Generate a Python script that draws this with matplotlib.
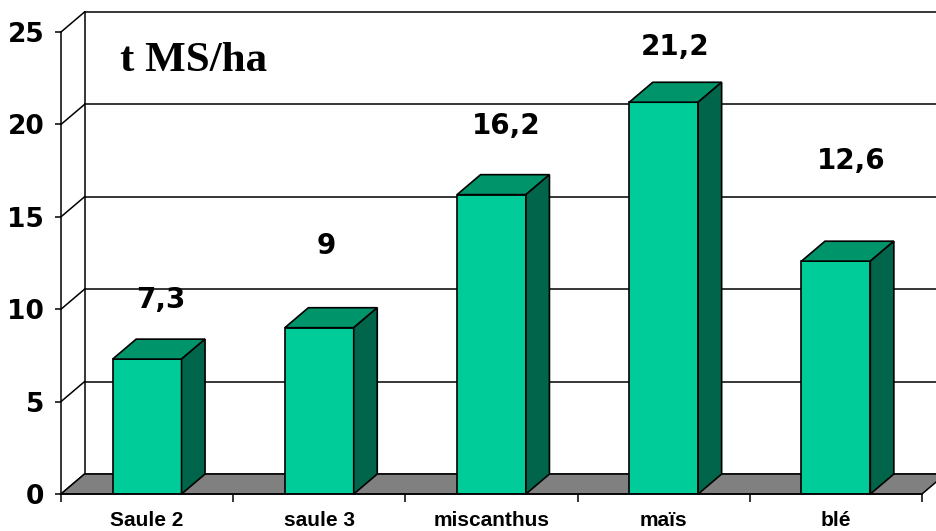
import numpy as np
import matplotlib.pyplot as plt
from matplotlib.patches import Polygon

categories = ["Saule 2", "saule 3", "miscanthus", "maïs", "blé"]
yields = [7.3, 9, 16.2, 21.2, 12.6]
value_labels = ["7,3", "9", "16,2", "21,2", "12,6"]
yticks = [0, 5, 10, 15, 20, 25]

# where each value label sits relative to its bar (category units, t/ha)
label_shift = [0.08, 0.04, 0.087, 0.064, 0.087]
label_lift = [3.2, 4.4, 3.7, 3.0, 5.4]

front = "#00CC99"
top = "#00946A"
side = "#00654A"
floor = "#808080"

# depth of the 3d box, in data units
dx, dy = 0.1365, 1.08
width = 0.4

fig = plt.figure(figsize=(9.36, 5.31), dpi=100)
ax = fig.add_axes([61 / 936, 37 / 531, 861 / 936, 462 / 531])
ax.set_xlim(0, 5)
ax.set_ylim(0, 25)

# back wall gridlines and the left wall edges
for v in yticks:
    ax.plot([dx, 5 + dx + 0.2], [v + dy, v + dy], color="k", lw=1.1, zorder=1, clip_on=False)
    ax.plot([0, dx], [v, v + dy], color="k", lw=1.1, zorder=1, clip_on=False)
ax.plot([dx, dx], [dy, 25 + dy], color="k", lw=1.1, zorder=1, clip_on=False)

# floor
ax.add_patch(Polygon([(0, 0), (5, 0), (5 + dx, dy), (dx, dy)], closed=True,
                     facecolor=floor, edgecolor="k", lw=1.1, zorder=2, clip_on=False))

x = np.arange(len(categories)) + 0.5
ax.bar(x, yields, width=width, color=front, edgecolor="k", linewidth=1.2, zorder=4)
for xi, v in zip(x, yields):
    x0, x1 = xi - width / 2, xi + width / 2
    ax.add_patch(Polygon([(x0, v), (x1, v), (x1 + dx, v + dy), (x0 + dx, v + dy)],
                         closed=True, facecolor=top, edgecolor="k", lw=1.2, zorder=4, clip_on=False))
    ax.add_patch(Polygon([(x1, 0), (x1 + dx, dy), (x1 + dx, v + dy), (x1, v)],
                         closed=True, facecolor=side, edgecolor="k", lw=1.2, zorder=4, clip_on=False))

for xi, v, txt, shift, lift in zip(x, yields, value_labels, label_shift, label_lift):
    ax.text(xi + shift, v + lift, txt, ha="center", va="center",
            fontsize=20, fontweight="bold", family="DejaVu Sans", zorder=6)

ax.text(0.77, 23.45, "t MS/ha", ha="center", va="center", fontsize=31,
        fontweight="bold", family="Liberation Serif", zorder=6)

for s in ["top", "right"]:
    ax.spines[s].set_visible(False)
for s in ["left", "bottom"]:
    ax.spines[s].set_linewidth(1.1)
    ax.spines[s].set_zorder(5)

ax.set_yticks(yticks)
ax.set_yticklabels([str(t) for t in yticks], fontsize=19, fontweight="bold", family="DejaVu Sans")
ax.tick_params(axis="y", length=4, width=1.1, pad=8)

ax.set_xticks(x)
ax.set_xticklabels(categories, fontsize=15, fontweight="bold", family="Liberation Sans")
ax.set_xticks(np.arange(0, 6), minor=True)
ax.tick_params(axis="x", which="major", length=0, pad=12)
ax.tick_params(axis="x", which="minor", length=6, width=1.1)

fig.savefig("out.png", dpi=100)
